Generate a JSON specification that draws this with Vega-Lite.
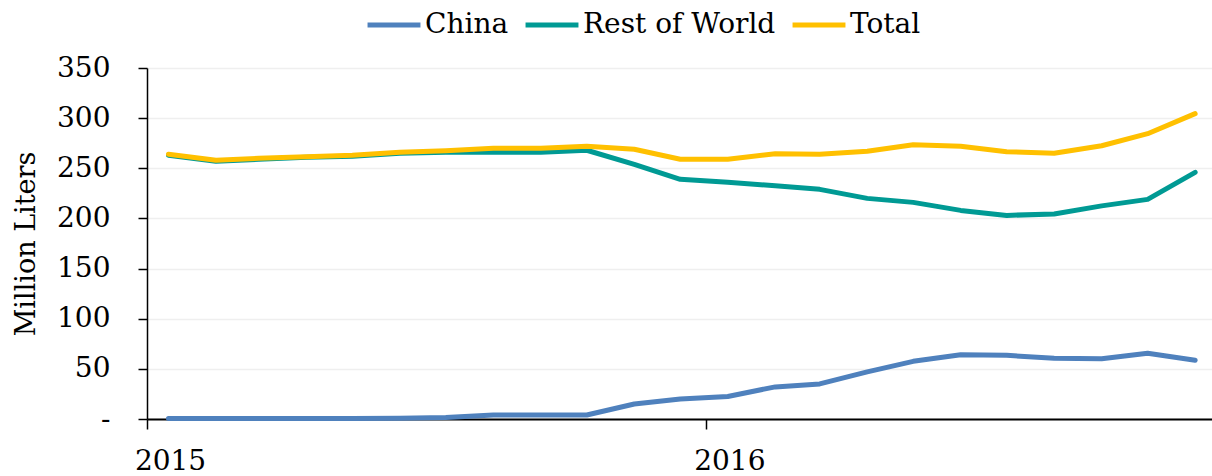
{
  "$schema": "https://vega.github.io/schema/vega-lite/v6.json",
  "autosize": {"type": "none"},
  "width": 1065,
  "height": 351,
  "padding": {"left": 147, "top": 68, "right": 0, "bottom": 57},
  "background": "white",
  "config": {
    "view": {"stroke": null},
    "font": "DejaVu Serif"
  },
  "data": {
    "values": [
      {"date": "2015-01-15", "series": "China", "value": 0.5},
      {"date": "2015-02-15", "series": "China", "value": 0.5},
      {"date": "2015-03-15", "series": "China", "value": 0.5},
      {"date": "2015-04-15", "series": "China", "value": 0.5},
      {"date": "2015-05-15", "series": "China", "value": 0.5},
      {"date": "2015-06-15", "series": "China", "value": 0.7},
      {"date": "2015-07-15", "series": "China", "value": 1.5},
      {"date": "2015-08-15", "series": "China", "value": 4},
      {"date": "2015-09-15", "series": "China", "value": 4},
      {"date": "2015-10-15", "series": "China", "value": 4},
      {"date": "2015-11-15", "series": "China", "value": 15},
      {"date": "2015-12-15", "series": "China", "value": 20},
      {"date": "2016-01-15", "series": "China", "value": 22.5},
      {"date": "2016-02-15", "series": "China", "value": 32},
      {"date": "2016-03-15", "series": "China", "value": 35},
      {"date": "2016-04-15", "series": "China", "value": 47},
      {"date": "2016-05-15", "series": "China", "value": 57.5},
      {"date": "2016-06-15", "series": "China", "value": 64},
      {"date": "2016-07-15", "series": "China", "value": 63.5},
      {"date": "2016-08-15", "series": "China", "value": 60.5},
      {"date": "2016-09-15", "series": "China", "value": 60},
      {"date": "2016-10-15", "series": "China", "value": 65.5},
      {"date": "2016-11-15", "series": "China", "value": 58.5},
      {"date": "2015-01-15", "series": "Rest of World", "value": 263},
      {"date": "2015-02-15", "series": "Rest of World", "value": 257},
      {"date": "2015-03-15", "series": "Rest of World", "value": 259},
      {"date": "2015-04-15", "series": "Rest of World", "value": 261},
      {"date": "2015-05-15", "series": "Rest of World", "value": 262},
      {"date": "2015-06-15", "series": "Rest of World", "value": 265},
      {"date": "2015-07-15", "series": "Rest of World", "value": 266},
      {"date": "2015-08-15", "series": "Rest of World", "value": 266},
      {"date": "2015-09-15", "series": "Rest of World", "value": 266},
      {"date": "2015-10-15", "series": "Rest of World", "value": 268},
      {"date": "2015-11-15", "series": "Rest of World", "value": 254},
      {"date": "2015-12-15", "series": "Rest of World", "value": 239},
      {"date": "2016-01-15", "series": "Rest of World", "value": 236},
      {"date": "2016-02-15", "series": "Rest of World", "value": 232.5},
      {"date": "2016-03-15", "series": "Rest of World", "value": 229},
      {"date": "2016-04-15", "series": "Rest of World", "value": 220},
      {"date": "2016-05-15", "series": "Rest of World", "value": 216},
      {"date": "2016-06-15", "series": "Rest of World", "value": 208},
      {"date": "2016-07-15", "series": "Rest of World", "value": 203},
      {"date": "2016-08-15", "series": "Rest of World", "value": 204.5},
      {"date": "2016-09-15", "series": "Rest of World", "value": 212.5},
      {"date": "2016-10-15", "series": "Rest of World", "value": 219},
      {"date": "2016-11-15", "series": "Rest of World", "value": 246},
      {"date": "2015-01-15", "series": "Total", "value": 264},
      {"date": "2015-02-15", "series": "Total", "value": 258},
      {"date": "2015-03-15", "series": "Total", "value": 260},
      {"date": "2015-04-15", "series": "Total", "value": 261.5},
      {"date": "2015-05-15", "series": "Total", "value": 263},
      {"date": "2015-06-15", "series": "Total", "value": 266},
      {"date": "2015-07-15", "series": "Total", "value": 267.5},
      {"date": "2015-08-15", "series": "Total", "value": 270},
      {"date": "2015-09-15", "series": "Total", "value": 270},
      {"date": "2015-10-15", "series": "Total", "value": 272},
      {"date": "2015-11-15", "series": "Total", "value": 269},
      {"date": "2015-12-15", "series": "Total", "value": 259},
      {"date": "2016-01-15", "series": "Total", "value": 259},
      {"date": "2016-02-15", "series": "Total", "value": 264.5},
      {"date": "2016-03-15", "series": "Total", "value": 264},
      {"date": "2016-04-15", "series": "Total", "value": 267},
      {"date": "2016-05-15", "series": "Total", "value": 273.5},
      {"date": "2016-06-15", "series": "Total", "value": 272},
      {"date": "2016-07-15", "series": "Total", "value": 266.5},
      {"date": "2016-08-15", "series": "Total", "value": 265},
      {"date": "2016-09-15", "series": "Total", "value": 272.5},
      {"date": "2016-10-15", "series": "Total", "value": 284.5},
      {"date": "2016-11-15", "series": "Total", "value": 304.5}
    ]
  },
  "mark": {"type": "line", "strokeWidth": 5, "strokeCap": "round", "strokeJoin": "round"},
  "encoding": {
    "x": {
      "field": "date",
      "type": "temporal",
      "scale": {
        "type": "utc",
        "domain": [
          {"year": 2015, "month": 1, "date": 1, "utc": true},
          {"year": 2016, "month": 11, "date": 26, "utc": true}
        ]
      },
      "axis": {
        "title": null,
        "grid": false,
        "values": [
          {"year": 2015, "month": 1, "date": 1, "utc": true},
          {"year": 2016, "month": 1, "date": 1, "utc": true}
        ],
        "format": "%Y",
        "formatType": "utc",
        "labelFont": "DejaVu Serif",
        "labelFontSize": 28,
        "labelColor": "black",
        "labelOffset": 23,
        "labelPadding": 18,
        "labelFlush": false,
        "labelOverlap": false,
        "domainColor": "black",
        "domainWidth": 2,
        "tickColor": "black",
        "tickWidth": 1.5,
        "tickSize": 10
      }
    },
    "y": {
      "field": "value",
      "type": "quantitative",
      "scale": {"domain": [0, 350], "nice": false},
      "axis": {
        "title": "Million Liters",
        "titleFont": "DejaVu Serif",
        "titleFontSize": 27,
        "titleFontWeight": "normal",
        "titleColor": "black",
        "titlePadding": 16,
        "values": [0, 50, 100, 150, 200, 250, 300, 350],
        "labelExpr": "datum.value == 0 ? '-' : datum.label",
        "labelFont": "DejaVu Serif",
        "labelFontSize": 28,
        "labelColor": "black",
        "labelPadding": 28,
        "domainColor": "black",
        "domainWidth": 1.5,
        "tickColor": "black",
        "tickWidth": 1.5,
        "tickSize": 9,
        "gridColor": "#EFEFEF",
        "gridWidth": 1.5
      }
    },
    "color": {
      "field": "series",
      "type": "nominal",
      "scale": {
        "domain": ["China", "Rest of World", "Total"],
        "range": ["#4F81BD", "#009A94", "#FFC000"]
      },
      "legend": {
        "title": null,
        "orient": "none",
        "direction": "horizontal",
        "legendX": 218,
        "legendY": -72,
        "padding": 0,
        "symbolType": "stroke",
        "symbolSize": 2800,
        "symbolStrokeWidth": 5,
        "labelFont": "DejaVu Serif",
        "labelFontSize": 28,
        "labelColor": "black",
        "labelOffset": 2,
        "columnPadding": 6,
        "labelLimit": 400
      }
    }
  }
}
